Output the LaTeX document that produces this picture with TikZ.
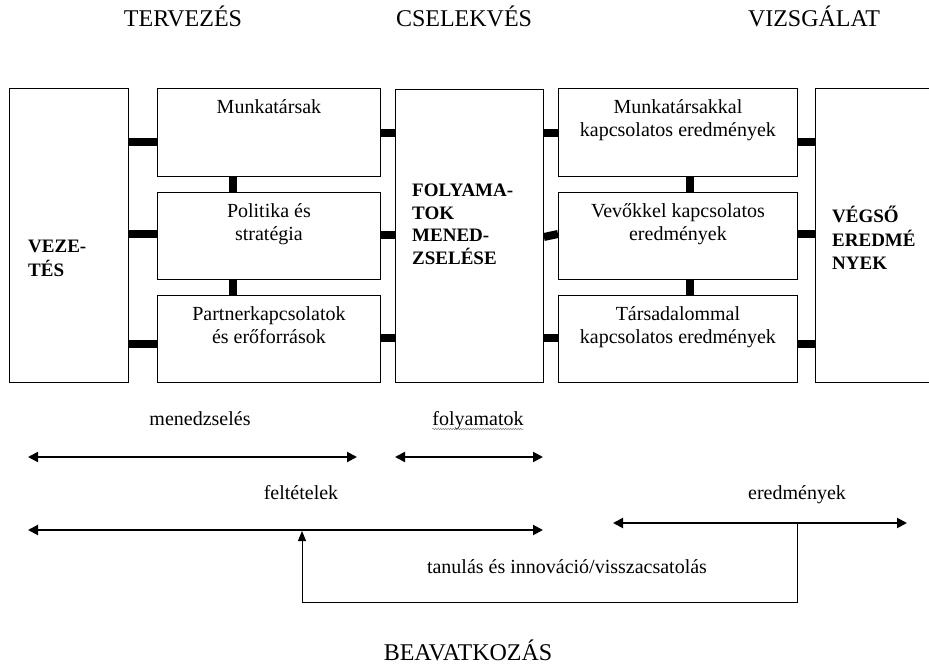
\documentclass[tikz,border=0pt]{standalone}
\usepackage{fontspec}
\setmainfont{Liberation Serif}
\usetikzlibrary{arrows.meta,decorations.pathmorphing}
\begin{document}
\begin{tikzpicture}[x=1pt,y=-1pt,
  box/.style={draw,line width=0.9pt,anchor=north west,inner sep=0pt},
  txt/.style={font=\fontsize{20}{23}\selectfont,align=center,inner sep=0pt,anchor=north},
  btxt/.style={font=\fontsize{19}{22.5}\selectfont\bfseries,align=left,inner sep=0pt,anchor=north west},
  title/.style={font=\fontsize{24}{28}\selectfont,inner sep=0pt,anchor=base},
  lbl/.style={font=\fontsize{20}{23}\selectfont,inner sep=0pt,anchor=base},
  bar/.style={line width=8pt},
  darr/.style={line width=2pt,{Triangle[width=10pt,length=10pt]}-{Triangle[width=10pt,length=10pt]}},
  fb/.style={line width=1pt}
]
\useasboundingbox (0,0) rectangle (929,668);
% titles
\node[title] (t1) at (183,27) {TERVEZÉS};
\node[title] (t2) at (464,27) {CSELEKVÉS};
\node[title] (t3) at (814,27) {VIZSGÁLAT};
\node[title] (t4) at (468,660) {BEAVATKOZÁS};
% boxes
\node[box,minimum width=119pt,minimum height=294pt] (vez) at (9,88) {};
\node[box,minimum width=223pt,minimum height=88pt] (l1) at (157,88) {};
\node[box,minimum width=223pt,minimum height=87pt] (l2) at (157,192) {};
\node[box,minimum width=223pt,minimum height=87pt] (l3) at (157,295) {};
\node[box,minimum width=148pt,minimum height=293pt] (fol) at (395,89) {};
\node[box,minimum width=239pt,minimum height=88pt] (r1) at (558,88) {};
\node[box,minimum width=239pt,minimum height=87pt] (r2) at (558,192) {};
\node[box,minimum width=239pt,minimum height=87pt] (r3) at (558,295) {};
\node[box,minimum width=116pt,minimum height=294pt] (veg) at (815,88) {};
% box texts
\node[btxt] (vezt) at (28,237) {\strut VEZE-\\TÉS};
\node[btxt] (folt) at (412,181) {\strut FOLYAMA-\\TOK\\MENED-\\ZSELÉSE};
\node[btxt] (vegt) at (832,206) {\strut VÉGSŐ\\EREDMÉ\\NYEK};
\node[txt] (l1t) at ([yshift=-9pt]l1.north) {\strut Munkatársak};
\node[txt] (l2t) at ([yshift=-9pt]l2.north) {\strut Politika és\\stratégia};
\node[txt] (l3t) at ([yshift=-9pt]l3.north) {\strut Partnerkapcsolatok\\és erőforrások};
\node[txt] (r1t) at ([yshift=-9pt]r1.north) {\strut Munkatársakkal\\kapcsolatos eredmények};
\node[txt] (r2t) at ([yshift=-9pt]r2.north) {\strut Vevőkkel kapcsolatos\\eredmények};
\node[txt] (r3t) at ([yshift=-9pt]r3.north) {\strut Társadalommal\\kapcsolatos eredmények};
% bars
\draw[bar] (vez.east |- 0,142) -- (l1.west |- 0,142);
\draw[bar] (vez.east |- 0,234) -- (l2.west |- 0,234);
\draw[bar] (vez.east |- 0,344) -- (l3.west |- 0,344);
\draw[bar] (l1.east |- 0,133) -- (fol.west |- 0,133);
\draw[bar] (l2.east |- 0,235) -- (fol.west |- 0,235);
\draw[bar] (l3.east |- 0,338) -- (fol.west |- 0,338);
\draw[bar] (l1.south -| 233,0) -- (l2.north -| 233,0);
\draw[bar] (l2.south -| 233,0) -- (l3.north -| 233,0);
\draw[bar] (fol.east |- 0,133) -- (r1.west |- 0,133);
\draw[bar] (fol.east |- 0,237) -- (r2.west |- 0,234);
\draw[bar] (fol.east |- 0,338) -- (r3.west |- 0,338);
\draw[bar] (r1.south -| 690,0) -- (r2.north -| 690,0);
\draw[bar] (r2.south -| 690,0) -- (r3.north -| 690,0);
\draw[bar] (r1.east |- 0,142) -- (veg.west |- 0,142);
\draw[bar] (r2.east |- 0,234) -- (veg.west |- 0,234);
\draw[bar] (r3.east |- 0,344) -- (veg.west |- 0,344);
% lower labels
\node[lbl] (men) at (200,425) {menedzselés};
\node[lbl] (fly) at (478,425) {folyamatok};
\draw[gray,line width=0.5pt,decorate,decoration={snake,amplitude=0.7pt,segment length=2.5pt}] ([yshift=-4pt]fly.base west) -- ([yshift=-4pt]fly.base east);
\node[lbl] (fel) at (301,499) {feltételek};
\node[lbl] (ere) at (797,499) {eredmények};
\node[lbl] (tan) at (567,573) {tanulás és innováció/visszacsatolás};
% arrows
\coordinate (m1) at (28,457); \coordinate (m2) at (357,457);
\coordinate (f1) at (395,457); \coordinate (f2) at (543,457);
\coordinate (c1) at (28,530); \coordinate (c2) at (543,530);
\coordinate (e1) at (613,523); \coordinate (e2) at (907,523);
\coordinate (fbs) at (797,523); \coordinate (fbe) at (302,531);
\draw[darr] (m1) -- (m2);
\draw[darr] (f1) -- (f2);
\draw[darr] (c1) -- (c2);
\draw[darr] (e1) -- (e2);
\draw[fb,-{Triangle[width=8pt,length=10pt]}] (fbs) -- (fbs |- 0,602) -| (fbe);
\end{tikzpicture}
\end{document}
